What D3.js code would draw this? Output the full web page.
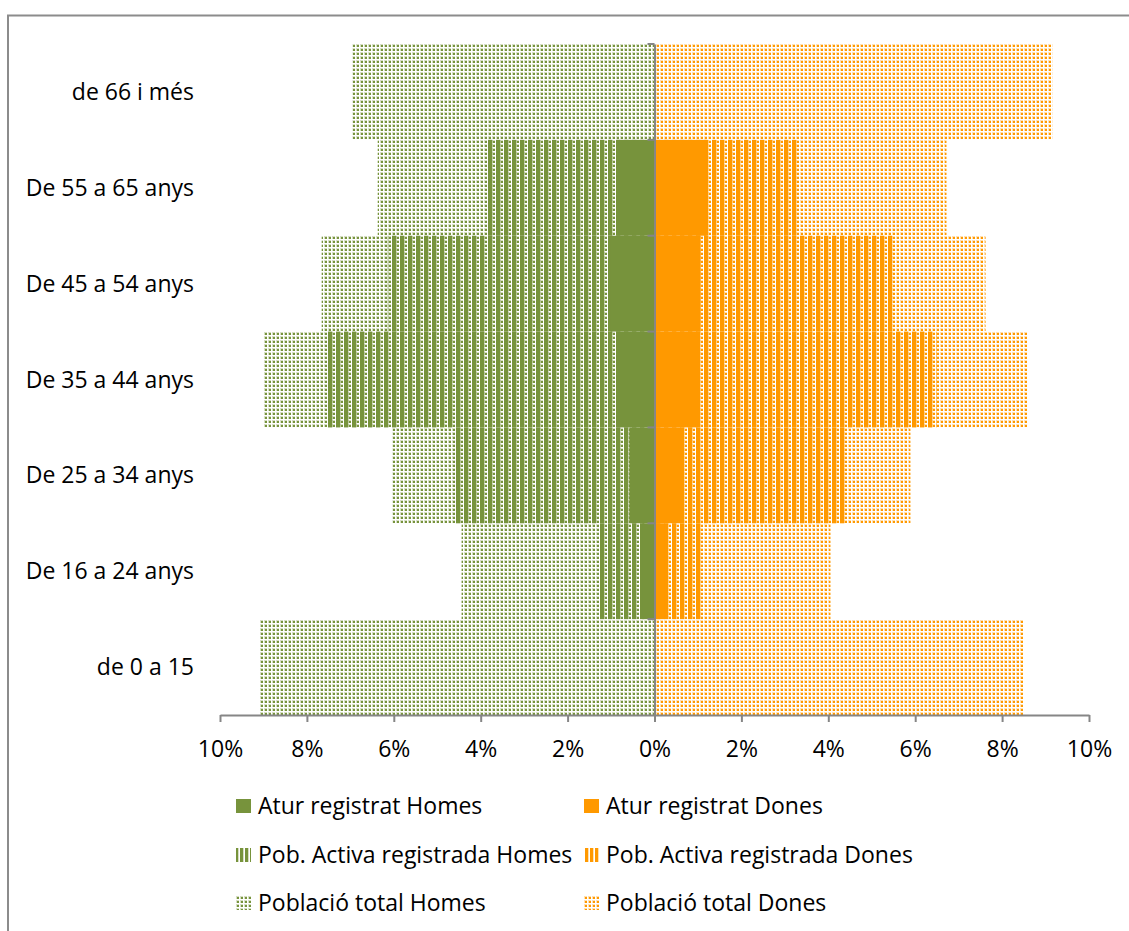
<!DOCTYPE html>
<html><head><meta charset="utf-8">
<script src="https://cdn.jsdelivr.net/npm/d3@7"></script>
<style>
html,body{margin:0;padding:0;background:#fff;}
text{font-family:"Open Sans",sans-serif;fill:#000;}
</style></head>
<body>
<svg id="chart" width="1129" height="931"></svg>
<script>
const categories = ["de 66 i més","De 55 a 65 anys","De 45 a 54 anys","De 35 a 44 anys","De 25 a 34 anys","De 16 a 24 anys","de 0 a 15"];
const poblacioHomes = [6.95, 6.37, 7.66, 9.00, 6.03, 4.44, 9.09];
const poblacioDones = [9.16, 6.72, 7.62, 8.58, 5.89, 4.05, 8.49];
const activaHomes   = [0, 3.87, 6.14, 7.53, 4.58, 1.27, 0];
const activaDones   = [0, 3.34, 5.48, 6.49, 4.40, 1.10, 0];
const aturHomes     = [0, 0.87, 1.01, 0.87, 0.58, 0.28, 0];
const aturDones     = [0, 1.20, 1.06, 0.99, 0.60, 0.23, 0];
const tickValues = [-10,-8,-6,-4,-2,0,2,4,6,8,10];
const tickLabels = ["10%","8%","6%","4%","2%","0%","2%","4%","6%","8%","10%"];
const legendLabels = ["Atur registrat Homes","Atur registrat Dones","Pob. Activa registrada Homes","Pob. Activa registrada Dones","Població total Homes","Població total Dones"];

const GREEN = "#77933C", ORANGE = "#FF9900", AXIS = "#868686";
const svg = d3.select("#chart");
const FS = 23;

// border
svg.append("rect").attr("x",8).attr("y",15.5).attr("width",1200).attr("height",1000)
  .attr("fill","none").attr("stroke","#8c8c8c").attr("stroke-width",2);

// patterns
const defs = svg.append("defs");
function stripes(id,color,w,c){
  const p = defs.append("pattern").attr("id",id).attr("patternUnits","userSpaceOnUse")
    .attr("width",w).attr("height",8);
  p.append("rect").attr("x",0).attr("y",0).attr("width",c).attr("height",8).attr("fill",color);
  p.append("rect").attr("x",c).attr("y",0).attr("width",1).attr("height",8).attr("fill",color).attr("opacity",0.3);
}
function dots(id,color){
  const p = defs.append("pattern").attr("id",id).attr("patternUnits","userSpaceOnUse")
    .attr("width",4).attr("height",4);
  p.append("rect").attr("x",0).attr("y",0).attr("width",3).attr("height",3).attr("fill",color).attr("opacity",0.3);
  p.append("rect").attr("x",1).attr("y",1).attr("width",2).attr("height",2).attr("fill",color);
}
stripes("stG",GREEN,8,4); stripes("stO",ORANGE,8,4);
stripes("lstG",GREEN,5,3); stripes("lstO",ORANGE,5,3);
dots("dtG",GREEN); dots("dtO",ORANGE);

const x = d3.scaleLinear().domain([-10,10]).range([220,1089]);
const y = d3.scaleBand().domain(categories).range([44,715]).padding(0);

function drawBars(vals, sign, fill){
  svg.append("g").selectAll("rect").data(categories).join("rect")
    .attr("x",(d,i)=> sign<0 ? x(-vals[i]) : x(0))
    .attr("width",(d,i)=> Math.abs(x(vals[i]) - x(0)))
    .attr("y",d=>y(d)).attr("height",y.bandwidth())
    .attr("fill",fill);
}
drawBars(poblacioHomes,-1,"url(#dtG)");
drawBars(poblacioDones,1,"url(#dtO)");
drawBars(activaHomes,-1,"url(#stG)");
drawBars(activaDones,1,"url(#stO)");
drawBars(aturHomes,-1,GREEN);
drawBars(aturDones,1,ORANGE);

// x axis
const xAxis = d3.axisBottom(x).tickValues(tickValues).tickSize(7).tickSizeOuter(0)
  .tickFormat((d,i)=>tickLabels[i]);
const gx = svg.append("g").attr("transform","translate(0,715)").call(xAxis);
gx.select(".domain").attr("stroke",AXIS).attr("stroke-width",2);
gx.selectAll(".tick line").attr("stroke",AXIS).attr("stroke-width",2);
gx.selectAll(".tick text").attr("y",26).attr("dy","0.71em").style("font-size",FS+"px")
  .style("font-family","'Open Sans',sans-serif").attr("fill","#000");

// y axis at zero
const yAxis = d3.axisLeft(y).tickSize(0).tickSizeOuter(0).tickFormat("");
const gy = svg.append("g").attr("transform",`translate(${x(0)},0)`).call(yAxis);
gy.select(".domain").attr("stroke",AXIS).attr("stroke-width",2);
// category boundary ticks
svg.append("g").selectAll("line").data(categories.slice(1)).join("line")
  .attr("x1",x(0)-7).attr("x2",x(0)).attr("y1",d=>y(d)).attr("y2",d=>y(d))
  .attr("stroke",AXIS).attr("stroke-width",2);
svg.append("line").attr("x1",x(0)-7).attr("x2",x(0)).attr("y1",44).attr("y2",44)
  .attr("stroke",AXIS).attr("stroke-width",2);

// category labels
svg.append("g").selectAll("text").data(categories).join("text")
  .attr("x",194).attr("y",d=>y(d)+y.bandwidth()/2).attr("dy","0.35em")
  .attr("text-anchor","end").style("font-size",FS+"px").text(d=>d);

// legend
const legendFills = [GREEN, ORANGE, "url(#lstG)", "url(#lstO)", "url(#dtG)", "url(#dtO)"];
const colX = [236, 584], rowY = [806, 855, 903];
const lg = svg.append("g");
legendLabels.forEach((lab,i)=>{
  const cx = colX[i%2], cy = rowY[Math.floor(i/2)];
  lg.append("rect").attr("x",cx).attr("y",cy-7).attr("width",15).attr("height",14)
    .attr("fill",legendFills[i]);
  lg.append("text").attr("x",cx+22).attr("y",cy).attr("dy","0.35em")
    .style("font-size",FS+"px").text(lab);
});
</script>
</body></html>
